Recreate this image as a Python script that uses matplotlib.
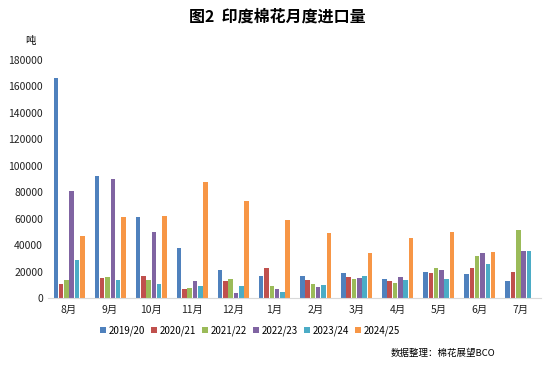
import numpy as np
import matplotlib
matplotlib.use("Agg")
import matplotlib.pyplot as plt

plt.rcParams['font.family'] = ['Noto Sans CJK SC', 'DejaVu Sans']

months = ["8月", "9月", "10月", "11月", "12月", "1月", "2月", "3月", "4月", "5月", "6月", "7月"]
seasons = ["2019/20", "2020/21", "2021/22", "2022/23", "2023/24", "2024/25"]
colors = ["#4F81BD", "#C0504D", "#9BBB59", "#8064A2", "#4BACC6", "#F79646"]

s1920 = [166000, 92500, 61600, 38000, 21100, 17000, 16600, 19100, 14600, 19600, 18100, 13000]
s2021 = [10600, 15100, 16800, 7000, 13000, 23100, 14000, 16100, 13000, 19100, 23100, 19600]
s2122 = [13600, 16100, 14000, 7800, 14600, 9000, 10600, 14600, 11500, 23100, 31700, 51500]
s2223 = [81000, 90000, 50000, 13000, 4000, 7000, 8500, 15600, 16100, 21600, 34400, 35700]
s2324 = [28700, 14000, 11000, 9500, 9000, 5000, 10000, 17000, 13600, 14600, 25600, 35700]
s2425 = [47200, 61600, 62100, 87500, 73400, 59100, 49300, 34000, 45700, 50000, 35200, np.nan]
series = [s1920, s2021, s2122, s2223, s2324, s2425]

fig = plt.figure(figsize=(5.54, 3.69), dpi=100)
ax = fig.add_axes([48.5 / 554, 1 - 298.3 / 369, 493 / 554, (298.3 - 59.5) / 369])

x = np.arange(len(months))
pitch = 0.129
width = 0.11
for i, (vals, c, lab) in enumerate(zip(series, colors, seasons)):
    ax.bar(x + (i - 2.5) * pitch, vals, width=width, color=c, label=lab)

ax.set_xlim(-0.5, len(months) - 0.5)
ax.set_ylim(0, 180000)
ax.set_yticks(range(0, 180001, 20000))
ax.set_xticks(x)
ax.set_xticklabels(months)
ax.tick_params(axis='both', length=0, labelsize=7.5, colors="#222222")
ax.tick_params(axis='y', pad=4)
ax.tick_params(axis='x', pad=5)
for sp in ["top", "right", "left"]:
    ax.spines[sp].set_visible(False)
ax.spines["bottom"].set_color("#d9d9d9")

fig.text(0.5, 1 - 17 / 369, "图2  印度棉花月度进口量", ha="center", va="center",
         fontsize=11.5, fontweight="bold")
fig.text(30 / 554, 1 - 41 / 369, "吨", ha="center", va="center", fontsize=7.5)

ax.legend(loc="center", bbox_to_anchor=(250 / 554, 1 - 331 / 369), bbox_transform=fig.transFigure,
          ncol=6, frameon=False, fontsize=7.0, handlelength=0.6, handleheight=0.6,
          handletextpad=0.3, columnspacing=0.6)

fig.text(495 / 554, 1 - 353 / 369, "数据整理：棉花展望BCO", ha="right", va="center", fontsize=6.8)

fig.savefig("out.png", dpi=100)
